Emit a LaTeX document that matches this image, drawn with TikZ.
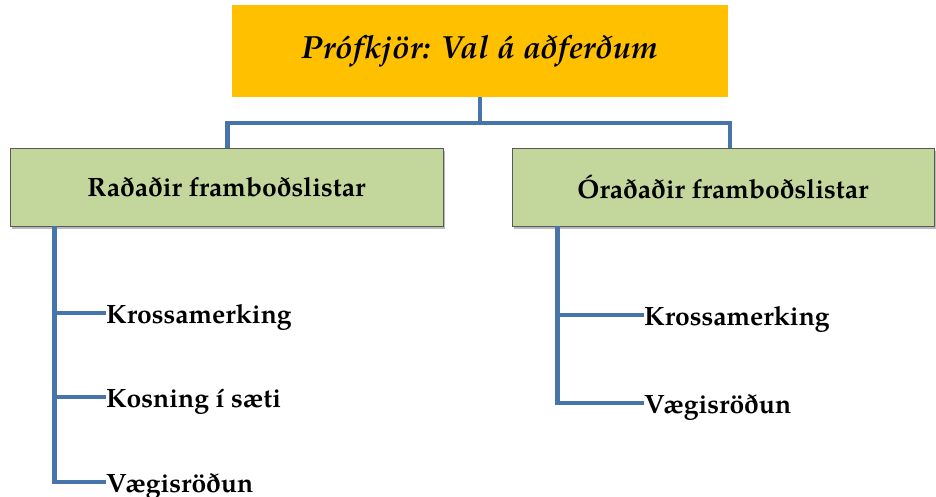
\documentclass[tikz,border=0pt]{standalone}
\usepackage{fontspec}
\setmainfont{texgyrepagella}[Extension=.otf, UprightFont=*-regular, BoldFont=*-bold, ItalicFont=*-italic, BoldItalicFont=*-bolditalic]
\usepackage{tikz}
\usetikzlibrary{shadows}

\definecolor{headgold}{RGB}{255,192,0}
\definecolor{listgreen}{RGB}{195,214,155}
\definecolor{linkblue}{RGB}{72,116,172}

\begin{document}
\begin{tikzpicture}[x=1pt, y=-1pt, line join=miter,
	link/.style={linkblue, line width=4.5pt},
	headbox/.style={fill=headgold, inner sep=0pt, font=\fontsize{32}{38}\selectfont\bfseries\itshape},
	listbox/.style={fill=listgreen, draw=black!65, line width=0.6pt, inner sep=0pt,
		minimum height=78pt, font=\fontsize{26.5}{30}\selectfont\bfseries,
		drop shadow={shadow xshift=2pt, shadow yshift=-3pt, opacity=0.45, fill=black!60}},
	item/.style={anchor=west, inner sep=0pt, text height=21pt, text depth=0pt,
		font=\fontsize{26.5}{30}\selectfont\bfseries}]
	\useasboundingbox (0,0) rectangle (936,497);

	% top of the tree
	\node[headbox, minimum width=496pt, minimum height=92pt] (head) at (480,51) {Prófkjör: Val á aðferðum};

	\node[listbox, minimum width=433pt] (left) at (226.5,187) {Raðaðir framboðslistar};
	\node[listbox, minimum width=422pt] (right) at (723,187) {Óraðaðir framboðslistar};

	\draw[link] (head.south) -- ++(0,26) -| ([xshift=1pt]left.north);
	\draw[link] (head.south) -- ++(0,26) -| ([xshift=7pt]right.north);

	% ranked lists
	\coordinate (lstem) at ([xshift=45pt]left.south west);
	\node[item] (lcross) at (106,313) {Krossamerking};
	\node[item] (lseat) at (106,397) {Kosning í sæti};
	\node[item] (lweight) at (106,482) {Vægisröðun};

	\draw[link] (lstem) |- (lweight.west);
	\draw[link] (lstem |- lcross.west) -- (lcross.west);
	\draw[link] (lstem |- lseat.west) -- (lseat.west);

	% unranked lists
	\coordinate (rstem) at ([xshift=46pt]right.south west);
	\node[item] (rcross) at (644,315) {Krossamerking};
	\node[item] (rweight) at (644,403) {Vægisröðun};

	\draw[link] (rstem) |- (rweight.west);
	\draw[link] (rstem |- rcross.west) -- (rcross.west);
\end{tikzpicture}
\end{document}
